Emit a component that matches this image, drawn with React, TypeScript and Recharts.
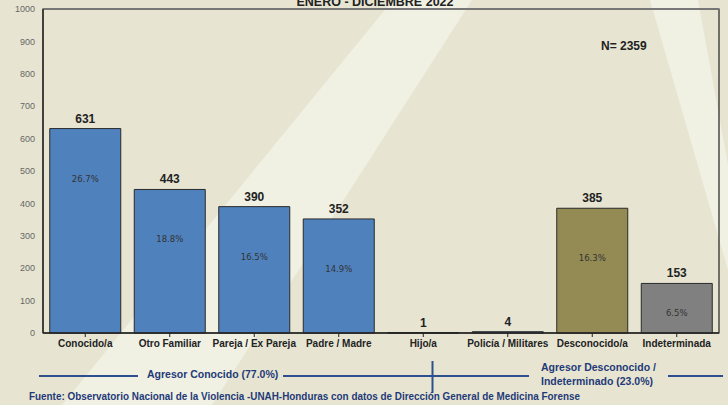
import React from 'react';
import { BarChart, Bar, XAxis, YAxis, Cell, LabelList, ReferenceArea, ReferenceLine } from 'recharts';

const categories = ['Conocido/a', 'Otro Familiar', 'Pareja / Ex Pareja', 'Padre / Madre', 'Hijo/a', 'Policía / Militares', 'Desconocido/a', 'Indeterminada'];
const counts = [631, 443, 390, 352, 1, 4, 385, 153];
const percents = ['26.7%', '18.8%', '16.5%', '14.9%', '', '', '16.3%', '6.5%'];
const barColors = ['#4F81BD', '#4F81BD', '#4F81BD', '#4F81BD', '#4F81BD', '#4F81BD', '#948A54', '#808080'];
const yTicks = [0, 100, 200, 300, 400, 500, 600, 700, 800, 900, 1000];

const titleText = 'ENERO  - DICIEMBRE 2022';
const totalText = 'N= 2359';
const groupKnown = 'Agresor Conocido (77.0%)';
const groupUnknown1 = 'Agresor Desconocido /';
const groupUnknown2 = 'Indeterminado (23.0%)';
const sourceText = 'Fuente: Observatorio Nacional de la Violencia -UNAH-Honduras con datos de Dirección General de Medicina Forense';

const data = categories.map((c, i) => ({ name: c, count: counts[i], pct: percents[i] }));

const BG = '#E7E5D2';
const LIGHT = '#F0F0E3';
const NAVY = '#1F3A78';
const NAVY_LINE = '#2C4F90';
const FONT = '"Liberation Sans", Arial, sans-serif';

const PctLabel = (props: any) => {
  const { x, y, width, height, value } = props;
  if (!value) return null;
  const cy = Math.min(y + 50, y + height / 2 + 5);
  return (
    <text x={x + width / 2} y={cy} textAnchor="middle" dominantBaseline="central"
      fontFamily='"DejaVu Sans", sans-serif' fontSize={8.5} fill="#333">
      {value}
    </text>
  );
};

export default function App() {
  return (
    <div style={{ position: 'absolute', left: 0, top: 0, width: 728, height: 405, background: BG, overflow: 'hidden', fontFamily: FONT }}>
      <svg width={728} height={405} style={{ position: 'absolute', left: 0, top: 0 }}>
        <polygon points="393,0 472,0 212,405 62,405" fill={LIGHT} />
        <polygon points="650,0 698,0 728,165 728,270" fill={LIGHT} />
      </svg>
      <div style={{ position: 'absolute', left: 0, top: 0 }}>
        <BarChart width={728} height={405} data={data}
          margin={{ top: 9, right: 9, left: 0, bottom: 52 }} barCategoryGap="8%">
          <ReferenceArea y1={0} y2={1000} fill="none" stroke="#222" strokeWidth={1.2} ifOverflow="extendDomain" />
          <ReferenceLine y={1000} stroke="#777" strokeWidth={2} />
          <XAxis dataKey="name" interval={0} tickSize={4} tickMargin={3}
            axisLine={{ stroke: '#222', strokeWidth: 1.5 }} tickLine={{ stroke: '#222' }}
            tick={{ fontSize: 10, fontWeight: 'bold', fill: '#222', fontFamily: FONT }} height={20} />
          <YAxis domain={[0, 1000]} ticks={yTicks} width={43} tickLine={false} tickSize={0} tickMargin={8}
            axisLine={{ stroke: '#222', strokeWidth: 1.2 }}
            tick={{ fontSize: 9, fill: '#666', fontFamily: FONT }} />
          <Bar dataKey="count" isAnimationActive={false} stroke="#2A2A2A" strokeWidth={1}>
            {data.map((d, i) => (
              <Cell key={d.name} fill={barColors[i]} />
            ))}
            <LabelList dataKey="count" position="top" offset={6}
              style={{ fontSize: 12, fontWeight: 'bold', fill: '#222', fontFamily: FONT }} />
            <LabelList dataKey="pct" content={PctLabel} />
          </Bar>
        </BarChart>
      </div>
      <svg width={728} height={405} style={{ position: 'absolute', left: 0, top: 0, pointerEvents: 'none' }}>
        <text x={375} y={6} textAnchor="middle" fontSize={12.5} fontWeight="bold" fill="#222" fontFamily={FONT}>{titleText}</text>
        <text x={601} y={50} fontSize={12} fontWeight="bold" fill="#222" fontFamily={FONT}>{totalText}</text>
        <line x1={39} y1={376} x2={138} y2={376} stroke={NAVY_LINE} strokeWidth={2} />
        <text x={147} y={378} fontSize={10.5} fontWeight="bold" fill={NAVY} fontFamily={FONT}>{groupKnown}</text>
        <line x1={283} y1={376} x2={529} y2={376} stroke={NAVY_LINE} strokeWidth={2} />
        <line x1={432.5} y1={361} x2={432.5} y2={393} stroke={NAVY_LINE} strokeWidth={2} />
        <text x={541} y={371} fontSize={10.5} fontWeight="bold" fill={NAVY} fontFamily={FONT}>{groupUnknown1}</text>
        <text x={541} y={385} fontSize={10.5} fontWeight="bold" fill={NAVY} fontFamily={FONT}>{groupUnknown2}</text>
        <line x1={668} y1={376} x2={723} y2={376} stroke={NAVY_LINE} strokeWidth={2} />
        <text x={29} y={400} fontSize={10} fontWeight="bold" fill={NAVY} fontFamily={FONT}
          textLength={551} lengthAdjust="spacingAndGlyphs">{sourceText}</text>
      </svg>
    </div>
  );
}
